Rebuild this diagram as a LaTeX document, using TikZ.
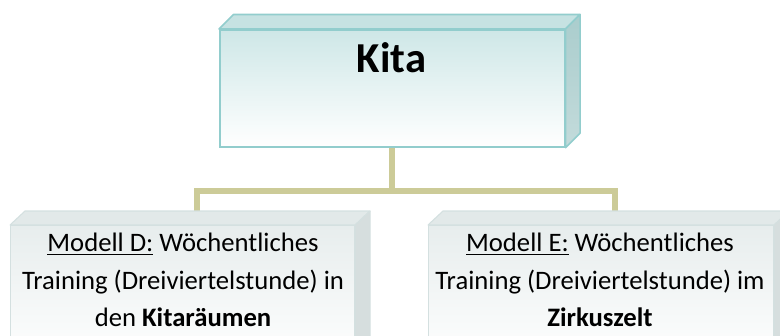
\documentclass[tikz,border=0pt]{standalone}
\usepackage{fontspec}
\setmainfont{Carlito}
\usetikzlibrary{calc}
\definecolor{connC}{RGB}{204,203,152}
\definecolor{kitaTop}{RGB}{206,231,231}
\definecolor{kitaBorder}{RGB}{146,205,205}
\definecolor{kitaLid}{RGB}{198,226,226}
\definecolor{kitaSide}{RGB}{170,205,205}
\definecolor{kitaSideB}{RGB}{195,219,219}
\definecolor{modTop}{RGB}{231,237,237}
\definecolor{modBorder}{RGB}{212,224,224}
\definecolor{modLid}{RGB}{226,233,233}
\definecolor{modSide}{RGB}{214,222,222}
\tikzset{
  conn/.style={draw=connC, line width=4.5pt, line join=miter},
  kitafront/.style={rectangle, draw=kitaBorder, line width=1.2pt, inner sep=0pt,
    anchor=north west, top color=kitaTop, middle color=kitaTop!80!white, bottom color=white},
  kitalid/.style={fill=kitaLid, draw=kitaBorder, line width=1.2pt, line join=round},
  kitaside/.style={top color=kitaSide, bottom color=kitaSideB, draw=kitaBorder, line width=1.2pt, line join=round},
  modfront/.style={rectangle, draw=modBorder, line width=0.8pt, inner sep=0pt,
    anchor=north west, top color=modTop, bottom color=white!97!modTop},
  modlid/.style={fill=modLid, draw=modBorder, line width=0.8pt, line join=round},
  modside/.style={fill=modSide, draw=modBorder, line width=0.8pt, line join=round},
  modtext/.style={align=center, inner sep=0pt, anchor=north, font=\fontsize{20}{28.1}\selectfont},
}
\begin{document}
\begin{tikzpicture}[x=0.75pt,y=-0.75pt]
\useasboundingbox (0,0) rectangle (780,335);
\clip (0,0) rectangle (780,335);
% box front faces
\node[kitafront, minimum width=258.75pt, minimum height=87.75pt] (kita) at (219,29) {};
\node[modfront, minimum width=258pt, minimum height=101.25pt] (modd) at (10,225) {};
\node[modfront, minimum width=258.75pt, minimum height=101.25pt] (mode) at (428,225) {};
% connector end points on the back edges of the lids
\coordinate (dtop) at ($(modd.north)+(14,-14)$);
\coordinate (etop) at ($(mode.north)+(14,-14)$);
% connectors
\draw[conn] (kita.south) -- (kita.south |- 0,191) -| (dtop);
\draw[conn] (kita.south |- 0,191) -| (etop);
% 3D faces of Kita
\draw[kitalid] (kita.north west) -- ++(14.5,-14.5) -- ($(kita.north east)+(14.5,-14.5)$) -- (kita.north east) -- cycle;
\draw[kitaside] (kita.north east) -- ++(14.5,-14.5) -- ($(kita.south east)+(14.5,-14.5)$) -- (kita.south east) -- cycle;
\node[kitafront, minimum width=258.75pt, minimum height=87.75pt] at (219,29) {};
% 3D faces of model boxes
\draw[modlid] (modd.north west) -- ++(15,-14) -- ($(modd.north east)+(15,-14)$) -- (modd.north east) -- cycle;
\draw[modside] (modd.north east) -- ++(15,-14) -- ($(modd.south east)+(15,-14)$) -- (modd.south east) -- cycle;
\draw[modlid] (mode.north west) -- ++(15,-14) -- ($(mode.north east)+(15,-14)$) -- (mode.north east) -- cycle;
\draw[modside] (mode.north east) -- ++(15,-14) -- ($(mode.south east)+(15,-14)$) -- (mode.south east) -- cycle;
% texts
\node[anchor=base, inner sep=0pt, font=\fontsize{32}{38}\selectfont\bfseries] (kitatext) at (391.5,72) {Kita};
\node[modtext] (dtext) at (183,233) {\underline{Modell D:} Wöchentliches\\Training (Dreiviertelstunde) in\\den \textbf{Kitaräumen}};
\node[modtext] (etext) at (600,233) {\underline{Modell E:} Wöchentliches\\Training (Dreiviertelstunde) im\\\textbf{Zirkuszelt}};
\end{tikzpicture}
\end{document}
